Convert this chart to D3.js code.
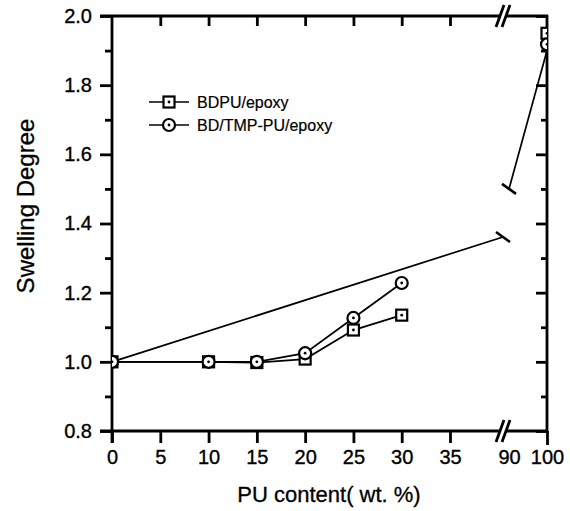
<!DOCTYPE html>
<html>
<head>
<meta charset="utf-8">
<script src="https://cdn.jsdelivr.net/npm/d3@7/dist/d3.min.js"></script>
<style>
  html, body { margin: 0; padding: 0; background: #fff; }
  svg { display: block; }
  text { font-family: "Liberation Sans", Arial, Helvetica, sans-serif; fill: #000; }
</style>
</head>
<body>
<svg id="chart" width="570" height="511"></svg>
<script>
// ---- data ----
const pu = [0, 10, 15, 20, 25, 30, 100];
const bdpu = [1.0, 1.0, 0.998, 1.008, 1.092, 1.135, 1.95];
const bdtmp = [1.0, 1.0, 1.0, 1.025, 1.127, 1.228, 1.918];
const seriesNames = ["BDPU/epoxy", "BD/TMP-PU/epoxy"];
const seriesShapes = ["square", "circle"];
// guide line drawn across the axis break
const guideLowX = [0, 84.4];
const guideLowY = [1.0, 1.361];
const guideHighX = [90, 100];
const guideHighY = [1.50, 1.90];
const xTicks = [0, 5, 10, 15, 20, 25, 30, 35, 90, 100];
const xTopTicks = [5, 10, 15, 20, 25, 30, 35];
const yMajor = [0.8, 1.0, 1.2, 1.4, 1.6, 1.8, 2.0];
const yMinor = [0.9, 1.1, 1.3, 1.5, 1.7, 1.9];
const xTitle = "PU content( wt. %)";
const yTitle = "Swelling Degree";

(function () {
// ---- layout ----
const L = 112, R = 547, T = 16, B = 431;
const breakX = 503;
const svg = d3.select("#chart");

const x = d3.scaleLinear().domain([0, 35, 90, 100]).range([L, 450, 509, R]);
const y = d3.scaleLinear().domain([0.8, 2.0]).range([B, T]);

const AX = 2.8;

svg.append("defs").append("clipPath").attr("id", "plotclip")
  .append("rect").attr("x", L).attr("y", T).attr("width", R - L).attr("height", B - T);

// ---- axes (ticks + labels) ----
const gBottom = svg.append("g").attr("transform", `translate(0,${B})`)
  .call(d3.axisBottom(x).tickValues(xTicks).tickSize(12).tickPadding(7).tickFormat(d3.format("d")));
gBottom.selectAll(".tick").filter(d => d === 90).select("line").remove();
gBottom.selectAll(".tick").filter(d => d === 100).select("line").attr("y2", 14);

const gTop = svg.append("g").attr("transform", `translate(0,${T})`)
  .call(d3.axisBottom(x).tickValues(xTopTicks).tickSize(10).tickFormat(""));

const leftMaj = svg.append("g").attr("transform", `translate(${L},0)`)
  .call(d3.axisLeft(y).tickValues(yMajor).tickSize(12).tickPadding(8).tickFormat(d3.format(".1f")));
const leftMin = svg.append("g").attr("transform", `translate(${L},0)`)
  .call(d3.axisLeft(y).tickValues(yMinor).tickSize(7).tickFormat(""));
const rightMaj = svg.append("g").attr("transform", `translate(${R},0)`)
  .call(d3.axisLeft(y).tickValues(yMajor).tickSize(11).tickFormat(""));
const rightMin = svg.append("g").attr("transform", `translate(${R},0)`)
  .call(d3.axisLeft(y).tickValues(yMinor).tickSize(6).tickFormat(""));

[gBottom, gTop, leftMaj, leftMin, rightMaj, rightMin].forEach(g => {
  g.select(".domain").remove();
  g.selectAll(".tick line").attr("stroke", "#000").attr("stroke-width", AX);
  g.selectAll(".tick text").attr("fill", "#000").attr("font-size", 20)
    .attr("stroke", "#000").attr("stroke-width", 0.35)
    .attr("font-family", '"Liberation Sans", Arial, sans-serif');
});

// ---- frame lines (broken at x-axis break) ----
const frame = svg.append("g").attr("stroke", "#000").attr("stroke-width", AX).attr("fill", "none");
frame.append("line").attr("x1", L).attr("x2", L).attr("y1", T - 1).attr("y2", B + 12);
frame.append("line").attr("x1", R).attr("x2", R).attr("y1", T - 1).attr("y2", B + 1);
[T, B].forEach(yy => {
  frame.append("line").attr("x1", L - 12).attr("x2", breakX - 3).attr("y1", yy).attr("y2", yy);
  frame.append("line").attr("x1", breakX + 3).attr("x2", R + 1).attr("y1", yy).attr("y2", yy);
  [-3, 3].forEach(dx => {
    frame.append("line")
      .attr("x1", breakX + dx - 4).attr("y1", yy + 11)
      .attr("x2", breakX + dx + 4).attr("y2", yy - 11)
      .attr("stroke-width", 2.8);
  });
});

// ---- guide line across the break ----
const guide = svg.append("g").attr("stroke", "#000").attr("stroke-width", 1.7).attr("fill", "none");
const gl = d3.line().x(d => x(d[0])).y(d => y(d[1]));
guide.append("path").attr("d", gl(d3.zip(guideLowX, guideLowY)));
guide.append("path").attr("d", gl(d3.zip(guideHighX, guideHighY)));
[[guideLowX[1], guideLowY[1]], [guideHighX[0], guideHighY[0]]].forEach(p => {
  const cx = x(p[0]), cy = y(p[1]);
  guide.append("line").attr("x1", cx - 7).attr("y1", cy - 5).attr("x2", cx + 7).attr("y2", cy + 5)
    .attr("stroke-width", 2.6);
});

// ---- series ----
const plot = svg.append("g").attr("clip-path", "url(#plotclip)");
const series = [bdpu, bdtmp];
const lineGen = d3.line().x(d => x(d[0])).y(d => y(d[1]));

function drawMarker(g, shape, cx, cy) {
  if (shape === "square") {
    g.append("rect").attr("x", cx - 5.5).attr("y", cy - 5.5).attr("width", 11).attr("height", 11)
      .attr("fill", "#fff").attr("stroke", "#000").attr("stroke-width", 2.2);
  } else {
    g.append("circle").attr("cx", cx).attr("cy", cy).attr("r", 6)
      .attr("fill", "#fff").attr("stroke", "#000").attr("stroke-width", 2.2);
  }
  g.append("circle").attr("cx", cx).attr("cy", cy).attr("r", 1.4).attr("fill", "#000");
}

series.forEach((vals) => {
  const pts = d3.zip(pu, vals).filter(d => d[0] <= 35);
  plot.append("path").attr("d", lineGen(pts)).attr("fill", "none")
    .attr("stroke", "#000").attr("stroke-width", 1.8);
});
series.forEach((vals, i) => {
  const g = plot.append("g");
  d3.zip(pu, vals).forEach(d => drawMarker(g, seriesShapes[i], x(d[0]), y(d[1])));
});

// ---- legend ----
const legend = svg.append("g");
seriesNames.forEach((name, i) => {
  const ly = 102 + i * 23;
  const g = legend.append("g");
  g.append("line").attr("x1", 149).attr("x2", 189).attr("y1", ly).attr("y2", ly)
    .attr("stroke", "#000").attr("stroke-width", 1.7);
  drawMarker(g, seriesShapes[i], 169, ly);
  g.append("text").attr("x", 197).attr("y", ly + 6).attr("font-size", 16)
    .attr("stroke", "#000").attr("stroke-width", 0.2).text(name);
});

// ---- titles ----
svg.append("text").attr("x", 329).attr("y", 502).attr("text-anchor", "middle")
  .attr("font-size", 22).attr("stroke", "#000").attr("stroke-width", 0.3).text(xTitle);
svg.append("text").attr("transform", "translate(34,206) rotate(-90)").attr("text-anchor", "middle")
  .attr("font-size", 24).attr("stroke", "#000").attr("stroke-width", 0.3).text(yTitle);
})();
</script>
</body>
</html>
